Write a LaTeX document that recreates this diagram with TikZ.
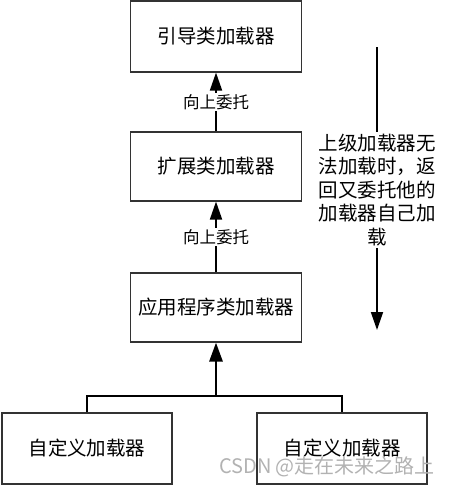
\documentclass[tikz,border=0pt]{standalone}
\usepackage{fontspec}
\newfontfamily\cjk{Noto Sans CJK SC}
\usepackage{tikz}
\usetikzlibrary{calc,arrows.meta}

\begin{document}
\begin{tikzpicture}[x=1pt, y=-1pt,
    loader/.style = {draw = black!80, line width = 1.1pt, minimum width = 171pt, minimum height = 70pt, inner sep = 0pt, font = \cjk\fontsize{19.5}{23.5}\selectfont},
    up/.style = {line width = 1.8pt, -{Triangle[length = 18pt, width = 12pt]}},
    bus/.style = {line width = 2.8pt},
    tag/.style = {fill = white, inner sep = 1.5pt, font = \cjk\fontsize{16.5}{20}\selectfont}]
            \useasboundingbox (0,0) rectangle (448,485);
            \node at (216,36.5) [loader, minimum height = 71pt] (boot) {引导类加载器};
            \node at (216,166.5) [loader, minimum height = 69pt] (ext) {扩展类加载器};
            \node at (216,307.5) [loader, minimum height = 69pt] (app) {应用程序类加载器};
            \node at (87,448.5) [loader, minimum width = 170pt, minimum height = 71pt] (own1) {自定义加载器};
            \node at (342,448.5) [loader, minimum width = 170pt, minimum height = 71pt] (own2) {自定义加载器};
            \draw[up] (ext.north) -- node[tag] (tag1) {向上委托} (boot.south);
            \draw[up] (app.north) -- node[tag] (tag2) {向上委托} (ext.south);
            \coordinate (join) at (216,396);
            \draw[bus] (own1.north) |- (join) -| (own2.north);
            \draw[bus, -{Triangle[length = 19pt, width = 13pt]}] (join) -- (app.south);
            \coordinate (fall) at (377,47);
            \coordinate (land) at (377,330);
            \draw[up] (fall) -- (land);
            \node at (377,190) [fill = white, inner sep = 2pt, align = center, font = \cjk\fontsize{19.5}{23.5}\selectfont] (back) {上级加载器无\\法加载时，返\\回又委托他的\\加载器自己加\\载};
            \node at (327,467) [text = black!30, inner sep = 0pt, font = \cjk\fontsize{20}{20}\selectfont] (mark) {CSDN @走在未来之路上};
          \end{tikzpicture}
\end{document}
